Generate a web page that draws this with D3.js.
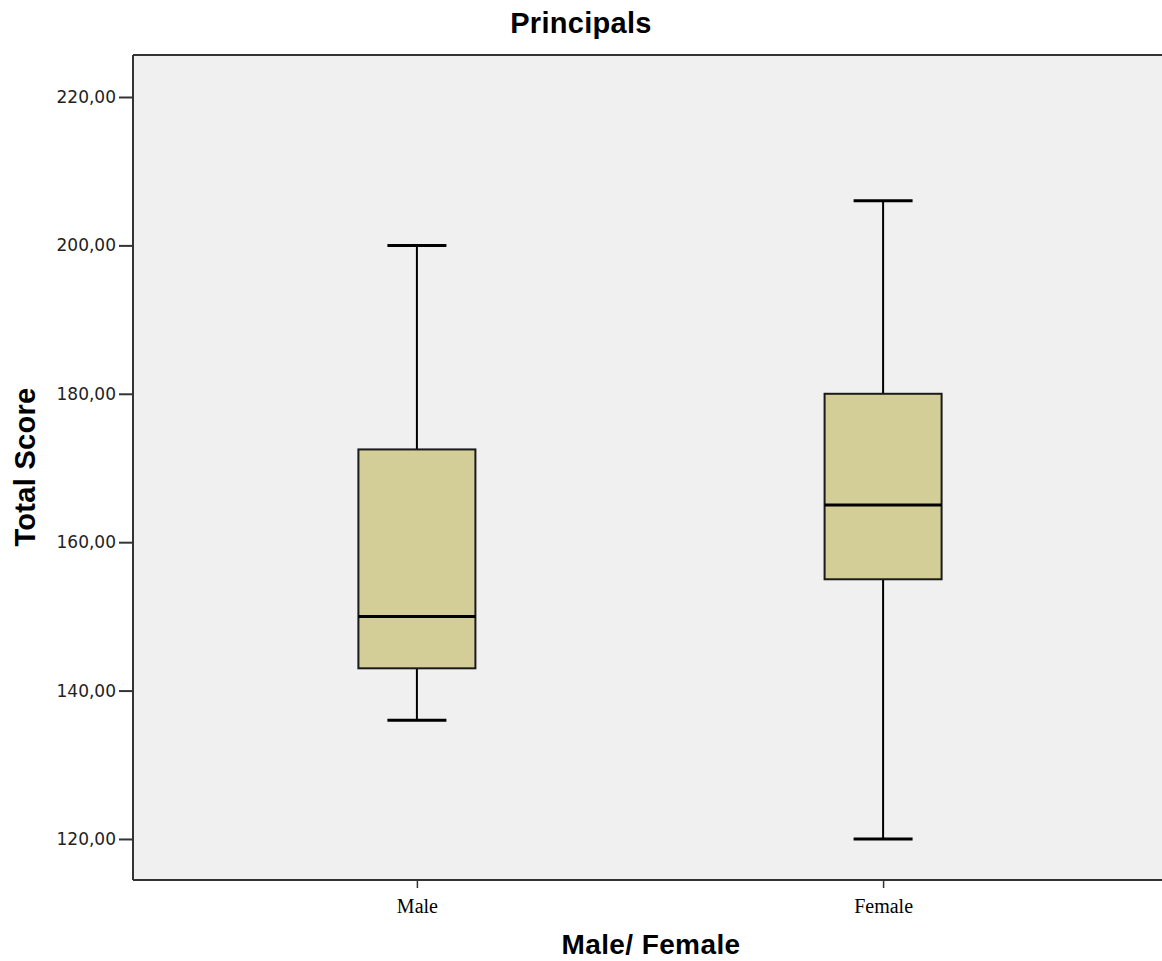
<!DOCTYPE html>
<html><head><meta charset="utf-8">
<script src="https://cdn.jsdelivr.net/npm/d3@7"></script>
<style>body{margin:0;background:#fff}</style>
</head><body>
<script>
const categories = ["Male", "Female"];
const mins = [136, 120];
const q1s = [143, 155];
const medians = [150, 165];
const q3s = [172.5, 180];
const maxs = [200, 206];
const yTicks = [120, 140, 160, 180, 200, 220];

const W = 1162, H = 961;
const L = 133, T = 55, B = 880, R = 1167;
const svg = d3.select("body").append("svg").attr("width", W).attr("height", H);

const y = d3.scaleLinear().domain([114.47, 225.66]).range([B, T]);
const x = d3.scalePoint().domain(categories).range([L, R]).padding(0.609);

svg.append("rect").attr("x", L).attr("y", T).attr("width", R - L).attr("height", B - T)
  .attr("fill", "#f0f0f0");

const data = categories.map((c, i) => ({c, min: mins[i], q1: q1s[i], med: medians[i], q3: q3s[i], max: maxs[i]}));
const bw = 117, cw = 59;
const g = svg.append("g");
data.forEach(d => {
  const cx = x(d.c);
  g.append("line").attr("x1", cx).attr("x2", cx).attr("y1", y(d.max)).attr("y2", y(d.q3)).attr("stroke", "#000").attr("stroke-width", 2);
  g.append("line").attr("x1", cx).attr("x2", cx).attr("y1", y(d.q1)).attr("y2", y(d.min)).attr("stroke", "#000").attr("stroke-width", 2);
  g.append("line").attr("x1", cx - cw/2).attr("x2", cx + cw/2).attr("y1", y(d.max)).attr("y2", y(d.max)).attr("stroke", "#000").attr("stroke-width", 3);
  g.append("line").attr("x1", cx - cw/2).attr("x2", cx + cw/2).attr("y1", y(d.min)).attr("y2", y(d.min)).attr("stroke", "#000").attr("stroke-width", 3);
  g.append("rect").attr("x", cx - bw/2).attr("y", y(d.q3)).attr("width", bw).attr("height", y(d.q1) - y(d.q3))
    .attr("fill", "#d3ce97").attr("stroke", "#1a1a1a").attr("stroke-width", 2);
  g.append("line").attr("x1", cx - bw/2).attr("x2", cx + bw/2).attr("y1", y(d.med)).attr("y2", y(d.med)).attr("stroke", "#000").attr("stroke-width", 3);
});

// axes
const yAxis = svg.append("g").attr("transform", `translate(${L},0)`)
  .call(d3.axisLeft(y).tickValues(yTicks).tickSize(14).tickPadding(3).tickFormat(d => d3.format(".2f")(d).replace(".", ",")));
yAxis.select(".domain").remove();
yAxis.selectAll(".tick line").attr("stroke", "#333").attr("stroke-width", 2);
yAxis.selectAll(".tick text").attr("font-family", "'DejaVu Sans', Verdana, sans-serif").attr("font-size", 17).attr("fill", "#222");

const xAxis = svg.append("g").attr("transform", `translate(0,${B})`)
  .call(d3.axisBottom(x).tickSize(8).tickPadding(11));
xAxis.select(".domain").remove();
xAxis.selectAll(".tick line").attr("stroke", "#333").attr("stroke-width", 1.5);
xAxis.selectAll(".tick text").attr("font-family", "'Liberation Serif', 'Times New Roman', serif").attr("font-size", 20).attr("fill", "#000");

// frame lines
svg.append("line").attr("x1", L).attr("x2", L).attr("y1", T).attr("y2", B).attr("stroke", "#333").attr("stroke-width", 2);
svg.append("line").attr("x1", L).attr("x2", R).attr("y1", T).attr("y2", T).attr("stroke", "#333").attr("stroke-width", 2);
svg.append("line").attr("x1", L).attr("x2", R).attr("y1", B).attr("y2", B).attr("stroke", "#333").attr("stroke-width", 2);

const lblFont = "'Liberation Sans', Arial, sans-serif";
svg.append("text").attr("x", 581).attr("y", 33).attr("text-anchor", "middle").attr("letter-spacing", 0.3)
  .attr("font-family", lblFont).attr("font-weight", "bold").attr("font-size", 29).text("Principals");
svg.append("text").attr("x", 651).attr("y", 954).attr("text-anchor", "middle").attr("letter-spacing", 0.4)
  .attr("font-family", lblFont).attr("font-weight", "bold").attr("font-size", 28).text("Male/ Female");
svg.append("text").attr("transform", `translate(35,467) rotate(-90)`).attr("text-anchor", "middle").attr("letter-spacing", 0.3)
  .attr("font-family", lblFont).attr("font-weight", "bold").attr("font-size", 29).text("Total Score");
</script>
</body></html>
